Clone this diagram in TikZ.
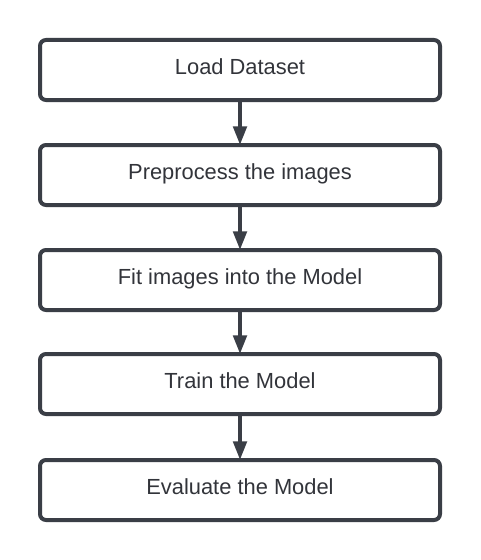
\documentclass[tikz,border=0pt]{standalone}
\usepackage{fontspec}
\setmainfont{Liberation Sans}
\usetikzlibrary{arrows.meta}
\definecolor{edge}{RGB}{58,62,70}
\definecolor{txt}{RGB}{50,52,58}
\begin{document}
\begin{tikzpicture}[x=0.75pt,y=-0.75pt,
  stepbox/.style={draw=edge,line width=3pt,rounded corners=4.5pt,minimum width=300pt,minimum height=45pt,inner sep=0pt,fill=white,text=txt,text height=11.6pt,text depth=4.5pt,font=\fontsize{16.4pt}{19pt}\selectfont},
  flow/.style={draw=edge,line width=3pt,-{Triangle[length=14pt,width=10pt]},shorten >=-1.5pt}]
\useasboundingbox[fill=white] (0,0) rectangle (480,560);
\node[stepbox] (a) at (240,70) {Load Dataset};
\node[stepbox] (b) at (240,175) {Preprocess the images};
\node[stepbox] (c) at (240,280) {Fit images into the Model};
\node[stepbox] (d) at (240,384) {Train the Model};
\node[stepbox] (e) at (240,490) {Evaluate the Model};
\draw[flow] (a) -- (b);
\draw[flow] (b) -- (c);
\draw[flow] (c) -- (d);
\draw[flow] (d) -- (e);
\end{tikzpicture}
\end{document}
